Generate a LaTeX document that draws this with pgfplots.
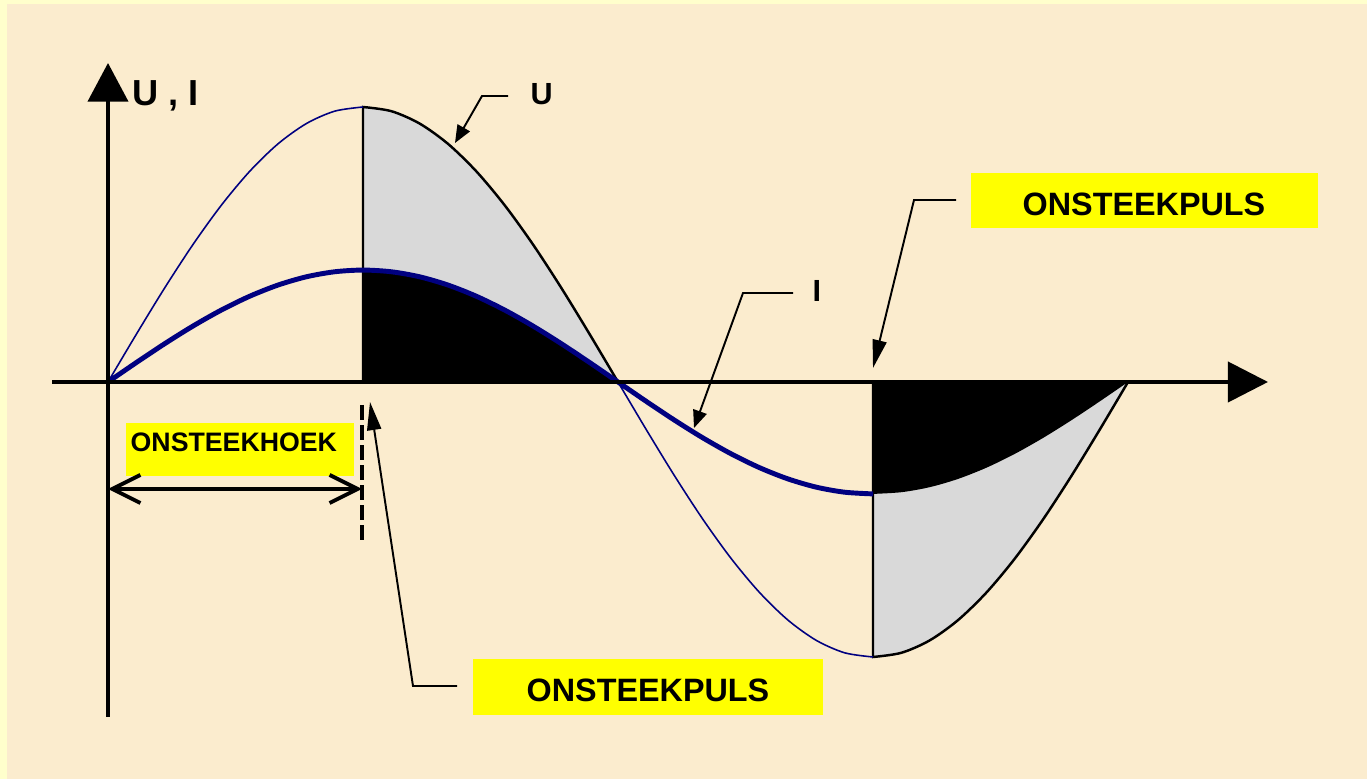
\documentclass[border=0pt]{standalone}
\usepackage{fontspec}
\setmainfont{Liberation Sans}
\usepackage{pgfplots}
\usepackage{pgfplotstable}
\pgfplotsset{compat=1.18}
\usetikzlibrary{arrows.meta}

\definecolor{navy}{RGB}{0,0,128}
\definecolor{lightgrey}{RGB}{217,217,217}
\definecolor{beige}{RGB}{251,236,206}
\definecolor{paleyellow}{RGB}{255,255,204}
\definecolor{labelyellow}{RGB}{255,255,0}

% x in degrees, U and I in units of the U amplitude
\pgfplotstableread{
x    u        i
0    0        0
10   0.1736   0.0707
20   0.3420   0.1392
30   0.5000   0.2035
40   0.6428   0.2616
50   0.7660   0.3118
60   0.8660   0.3525
70   0.9397   0.3825
80   0.9848   0.4008
90   1.0000   0.4070
100  0.9848   0.4008
110  0.9397   0.3825
120  0.8660   0.3525
130  0.7660   0.3118
140  0.6428   0.2616
150  0.5000   0.2035
160  0.3420   0.1392
170  0.1736   0.0707
180  0        0
190  -0.1736  -0.0707
200  -0.3420  -0.1392
210  -0.5000  -0.2035
220  -0.6428  -0.2616
230  -0.7660  -0.3118
240  -0.8660  -0.3525
250  -0.9397  -0.3825
260  -0.9848  -0.4008
270  -1.0000  -0.4070
280  -0.9848  -0.4008
290  -0.9397  -0.3825
300  -0.8660  -0.3525
310  -0.7660  -0.3118
320  -0.6428  -0.2616
330  -0.5000  -0.2035
340  -0.3420  -0.1392
350  -0.1736  -0.0707
360  0        0
}\wave

\begin{document}
\begin{tikzpicture}
% background (pixel units, origin top left)
\begin{scope}[yshift=7.79cm, x=0.1mm, y=-0.1mm]
  \fill[paleyellow] (0,0) rectangle (1367,779);
  \fill[beige] (7,4) rectangle (1367,779);
\end{scope}

\begin{axis}[
  at={(0,0)}, anchor=south west,
  scale only axis, width=13.67cm, height=7.79cm,
  xmin=-38.118, xmax=444.35,
  ymin=-1.44364, ymax=1.38909,
  hide axis, clip=false,
]
  % conducting parts: grey = U, black = I
  \addplot[fill=lightgrey, draw=black, line width=0.7pt, smooth,
    restrict x to domain=90:180] table[x=x, y=u] {\wave} \closedcycle;
  \addplot[fill=lightgrey, draw=black, line width=0.7pt, smooth,
    restrict x to domain=270:360] table[x=x, y=u] {\wave} \closedcycle;
  \addplot[fill=black, draw=none, smooth,
    restrict x to domain=90:180] table[x=x, y=i] {\wave} \closedcycle;
  \addplot[fill=black, draw=none, smooth,
    restrict x to domain=270:360] table[x=x, y=i] {\wave} \closedcycle;
  % U where it is blocked
  \addplot[navy, line width=0.45pt, smooth,
    restrict x to domain=0:90] table[x=x, y=u] {\wave};
  \addplot[navy, line width=0.45pt, smooth,
    restrict x to domain=180:270] table[x=x, y=u] {\wave};
  % I
  \addplot[navy, line width=1.4pt, smooth,
    restrict x to domain=0:270] table[x=x, y=i] {\wave};
  % axes
  \draw[line width=1.1pt, -{Triangle[length=11.4pt, width=11.4pt]}]
    (axis cs:-19.76,0) -- (axis cs:409.41,0);
  \draw[line width=1.1pt, -{Triangle[length=11pt, width=11.4pt]}]
    (axis cs:0,-1.218) -- (axis cs:0,1.16);
\end{axis}

% annotations (pixel units, origin top left)
\begin{scope}[yshift=7.79cm, x=0.1mm, y=-0.1mm, font=\bfseries]
  \node[anchor=base west, inner sep=0, font=\bfseries\fontsize{10.3}{12}\selectfont]
    at (132,106) {U , I};
  \node[anchor=base west, inner sep=0, font=\bfseries\fontsize{8.7}{10}\selectfont]
    at (530,105) {U};
  \node[anchor=base west, inner sep=0, font=\bfseries\fontsize{8.7}{10}\selectfont]
    at (812,302) {I};

  \draw[line width=0.55pt, -{Triangle[length=5pt, width=4pt]}]
    (508,96) -- (482,96) -- (455,143);
  \draw[line width=0.55pt, -{Triangle[length=5pt, width=4pt]}]
    (793,293) -- (743,293) -- (694,428);

  % firing pulses
  \fill[labelyellow] (971,173) rectangle (1318,228);
  \node[anchor=base, inner sep=0, font=\bfseries\fontsize{9.2}{11}\selectfont]
    at (1144,215.5) {ONSTEEKPULS};
  \draw[line width=0.55pt, -{Triangle[length=8pt, width=4pt]}]
    (956,200) -- (914,200) -- (873,368);

  \fill[labelyellow] (473,659) rectangle (823,715);
  \node[anchor=base, inner sep=0, font=\bfseries\fontsize{9.2}{11}\selectfont]
    at (648,702) {ONSTEEKPULS};
  \draw[line width=0.55pt, -{Triangle[length=8pt, width=4pt]}]
    (457,686) -- (413,686) -- (370,402);

  % firing angle
  \fill[labelyellow] (126,423) rectangle (354,476);
  \node[anchor=base west, inner sep=0, font=\bfseries\fontsize{7.6}{9}\selectfont]
    at (130,452) {ONSTEEKHOEK};
  \draw[line width=1.15pt, dash pattern=on 4.3pt off 1.4pt] (362,405) -- (362,543);
  \draw[line width=1.1pt, {Straight Barb[length=8pt, width=8pt]}-{Straight Barb[length=8pt, width=8pt]}]
    (108,489) -- (362,489);
\end{scope}
\end{tikzpicture}
\end{document}
